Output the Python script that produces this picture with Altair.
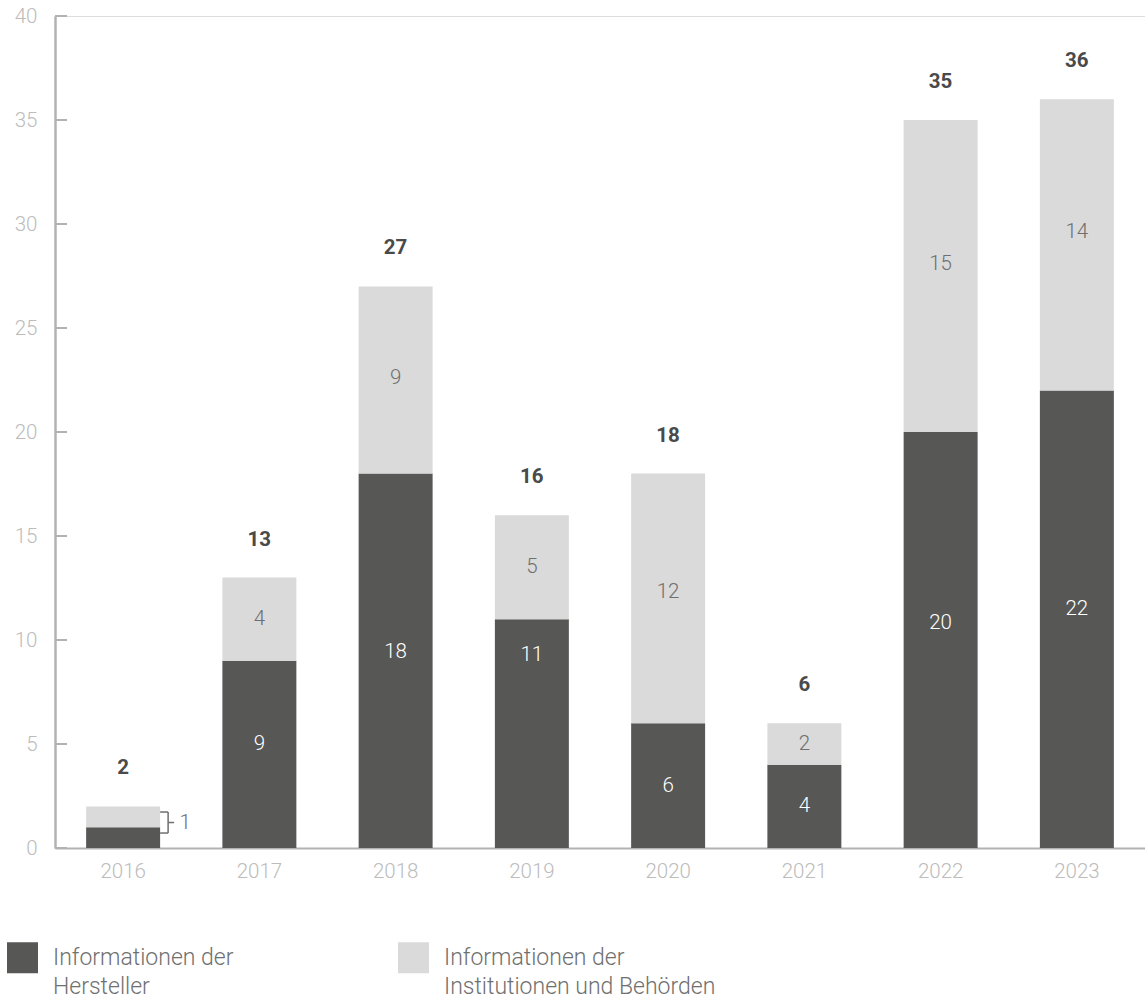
import altair as alt
import pandas as pd

# ---------------- data ----------------
years = ["2016", "2017", "2018", "2019", "2020", "2021", "2022", "2023"]
hersteller = [1, 9, 18, 11, 6, 4, 20, 22]
behoerden = [1, 4, 9, 5, 12, 2, 15, 14]
# where the in-bar labels sit (data units); None = no label
hersteller_label_at = [None, 5.0, 9.4, 9.3, 3.0, 2.0, 10.8, 11.5]
behoerden_label_at = [None, 11.0, 22.6, 13.5, 12.3, 5.0, 28.1, 29.6]
series_names = ["Informationen der Hersteller", "Informationen der Institutionen und Behörden"]
y_ticks = [0, 5, 10, 15, 20, 25, 30, 35, 40]
bracket_year = "2016"
bracket_text = "1"
bracket_lo, bracket_hi = 0.72, 1.73

# ---------------- style ----------------
FONT = "Roboto"
DARK = "#575756"
LIGHT = "#dadada"
AXIS = "#b2b2b2"
TICKLBL = "#bcbcbc"
INNER_LIGHT = "#6f6f6f"
TOTAL = "#4a4a4a"
FS = 20.5
W, H = 1090, 832
PAD_INNER = 0.457
step = W / len(years)
half_bar = step * (1 - PAD_INNER) / 2

rows = []
for i, y in enumerate(years):
    rows.append({"year": y, "series": series_names[0], "value": hersteller[i], "ord": 0})
    rows.append({"year": y, "series": series_names[1], "value": behoerden[i], "ord": 1})
df = pd.DataFrame(rows)

tot = pd.DataFrame({"year": years, "total": [a + b for a, b in zip(hersteller, behoerden)]})

dark_lbl = pd.DataFrame([{"year": y, "at": a, "txt": str(v)}
                         for y, a, v in zip(years, hersteller_label_at, hersteller) if a is not None])
light_lbl = pd.DataFrame([{"year": y, "at": a, "txt": str(v)}
                          for y, a, v in zip(years, behoerden_label_at, behoerden) if a is not None])
ticks = pd.DataFrame({"v": y_ticks})
br = pd.DataFrame([{"year": bracket_year, "lo": bracket_lo, "hi": bracket_hi,
                    "mid": (bracket_lo + bracket_hi) / 2, "txt": bracket_text}])

x_scale = alt.Scale(domain=years, paddingInner=PAD_INNER, paddingOuter=PAD_INNER / 2)
y_scale = alt.Scale(domain=[0, 40], nice=False)

x_axis = alt.Axis(domainColor=AXIS, domainWidth=2, ticks=False, tickSize=0,
                  labelPadding=13, labelFontSize=FS, labelColor=TICKLBL,
                  labelFont=FONT, labelFontWeight=300, labelAngle=0, grid=False)
y_axis = alt.Axis(values=y_ticks, domainColor=AXIS, domainWidth=2.5, ticks=False,
                  tickSize=0, labelPadding=18, labelFontSize=FS, labelColor=TICKLBL,
                  labelFont=FONT, labelFontWeight=300, grid=False)


def X():
    return alt.X("year:N", scale=x_scale, axis=x_axis, title=None)


def Y(field):
    return alt.Y(field, scale=y_scale, axis=y_axis, title=None)


bars = alt.Chart(df).mark_bar().encode(
    x=X(),
    y=alt.Y("value:Q", stack="zero", scale=y_scale, axis=y_axis, title=None),
    color=alt.Color("series:N",
                    scale=alt.Scale(domain=series_names, range=[DARK, LIGHT]),
                    legend=alt.Legend(title=None, orient="none", legendX=-48, legendY=926,
                                      direction="horizontal", symbolType="square",
                                      symbolSize=961, symbolStrokeWidth=0, symbolOpacity=1,
                                      labelFontSize=23, labelFont=FONT, labelFontWeight=300,
                                      labelColor="#707070", labelOffset=15, labelLimit=500,
                                      columnPadding=164, padding=0,
                                      labelExpr="split(replace(datum.label, 'der ', 'der|'), '|')")),
    order=alt.Order("ord:Q", sort="ascending"),
)

tick_marks = alt.Chart(ticks).mark_rule(color=AXIS, strokeWidth=2).encode(
    y=Y("v:Q"), x=alt.value(0), x2=alt.value(12))

totals = alt.Chart(tot).mark_text(dy=-38, fontSize=FS, fontWeight="bold", font=FONT,
                                  color=TOTAL).encode(
    x=X(), y=Y("total:Q"), text="total:Q")

dark_text = alt.Chart(dark_lbl).mark_text(fontSize=FS, fontWeight=300, font=FONT,
                                          color="#ffffff").encode(
    x=X(), y=Y("at:Q"), text="txt:N")
light_text = alt.Chart(light_lbl).mark_text(fontSize=FS, fontWeight=300, font=FONT,
                                            color=INNER_LIGHT).encode(
    x=X(), y=Y("at:Q"), text="txt:N")

bx0 = half_bar
bx1 = half_bar + 8
br_base = alt.Chart(br)
br_v = br_base.mark_rule(color=INNER_LIGHT, strokeWidth=1.5, xOffset=bx1).encode(
    x=X(), y=Y("lo:Q"), y2="hi:Q")
br_top = br_base.mark_rule(color=INNER_LIGHT, strokeWidth=1.5, xOffset=bx0, x2Offset=bx1).encode(
    x=X(), x2="year:N", y=Y("hi:Q"))
br_bot = br_base.mark_rule(color=INNER_LIGHT, strokeWidth=1.5, xOffset=bx0, x2Offset=bx1).encode(
    x=X(), x2="year:N", y=Y("lo:Q"))
br_mid = br_base.mark_rule(color=INNER_LIGHT, strokeWidth=1.5, xOffset=bx1, x2Offset=bx1 + 6).encode(
    x=X(), x2="year:N", y=Y("mid:Q"))
br_txt = br_base.mark_text(fontSize=FS, fontWeight=300, font=FONT, color=INNER_LIGHT,
                           xOffset=bx1 + 17).encode(
    x=X(), y=Y("mid:Q"), text="txt:N")

chart = alt.layer(bars, tick_marks, totals, dark_text, light_text,
                  br_v, br_top, br_bot, br_mid, br_txt).properties(
    width=W, height=H,
    padding={"left": 55, "top": 16, "right": 0, "bottom": 152},
    autosize=alt.AutoSizeParams(type="none"),
).configure_view(strokeWidth=0).configure(
    font=FONT, style={"guide-label": {"lineHeight": 29}}
)

chart.save("out.html", embed_options={"renderer": "svg", "actions": False})
